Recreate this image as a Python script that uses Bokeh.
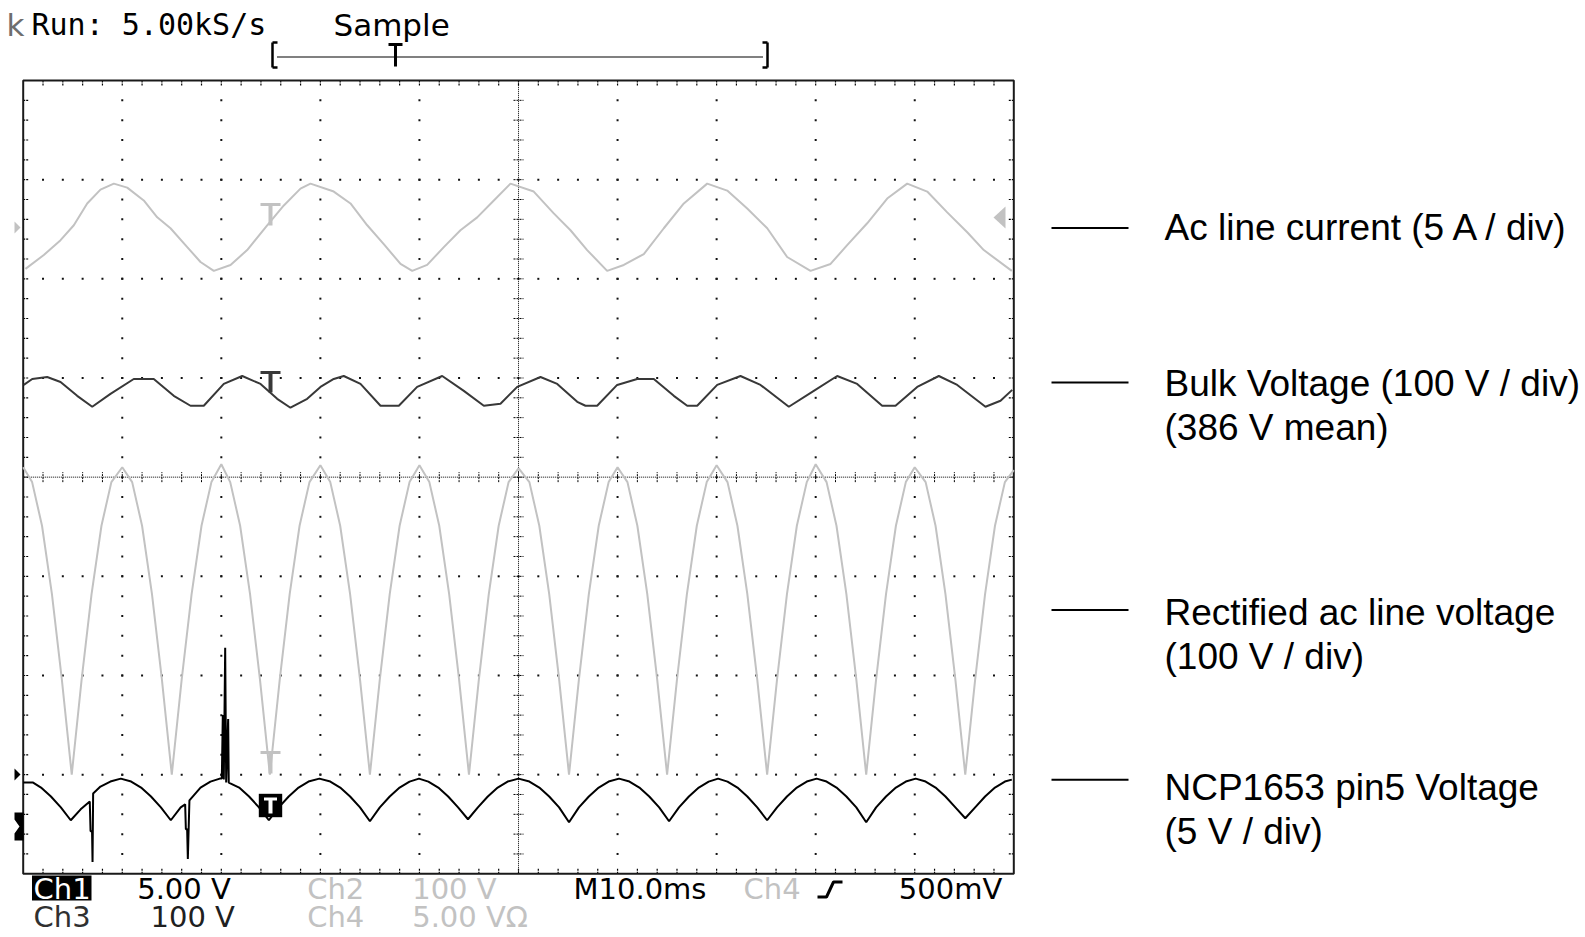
import numpy as np
from bokeh.plotting import figure
from bokeh.models import Range1d
from bokeh.core.properties import value
from bokeh.embed import file_html
from bokeh.resources import INLINE

# ---------------- data ----------------
# time in ms (10 ms / div, 0..100), level in screen divisions (0 = screen centre, -4..4)
current_t = [0.23, 2.08, 3.77, 5.11, 6.46, 7.80, 9.15, 10.50, 12.17, 13.53, 14.87, 16.56, 17.90, 19.24,
             20.93, 22.61, 24.63, 26.31, 27.99, 29.00, 31.35, 33.04, 34.73, 36.40, 38.09, 39.27, 40.78,
             42.46, 44.14, 45.83, 47.51, 49.19, 51.54, 53.56, 55.25, 56.93, 58.95, 60.63, 62.65, 64.67,
             66.69, 69.05, 71.07, 73.09, 75.11, 77.12, 79.48, 81.50, 83.18, 85.20, 87.22, 89.24, 91.26,
             93.28, 95.30, 96.97, 99.80]
current_div = [2.10, 2.24, 2.39, 2.54, 2.76, 2.90, 2.96, 2.92, 2.79, 2.62, 2.51, 2.32, 2.17, 2.08,
               2.14, 2.29, 2.54, 2.74, 2.91, 2.96, 2.88, 2.76, 2.54, 2.35, 2.15, 2.08, 2.14,
               2.32, 2.49, 2.62, 2.79, 2.96, 2.88, 2.66, 2.49, 2.29, 2.08, 2.14, 2.25, 2.51,
               2.76, 2.96, 2.89, 2.71, 2.51, 2.22, 2.08, 2.15, 2.34, 2.56, 2.81, 2.96, 2.88,
               2.67, 2.47, 2.29, 2.08]

bulk_t = [0.06, 0.91, 2.42, 3.77, 5.45, 6.97, 8.81, 11.16, 13.18, 15.20, 16.89, 18.23, 20.25, 22.11,
          23.96, 25.64, 26.98, 28.67, 30.01, 31.35, 32.36, 34.05, 36.07, 37.92, 39.77, 42.30, 44.48,
          46.50, 48.18, 49.87, 52.22, 53.91, 55.93, 56.76, 57.94, 59.96, 61.98, 63.66, 65.68, 67.03,
          68.04, 70.06, 72.41, 74.43, 77.29, 79.81, 82.17, 84.19, 86.71, 88.06, 90.25, 92.43, 94.29,
          97.14, 98.66, 99.84]
bulk_div = [0.93, 0.99, 1.01, 0.96, 0.82, 0.71, 0.84, 0.99, 0.99, 0.82, 0.72, 0.72, 0.94, 1.02,
            0.94, 0.79, 0.70, 0.79, 0.91, 0.99, 1.02, 0.94, 0.72, 0.72, 0.91, 1.02, 0.87,
            0.72, 0.74, 0.91, 1.01, 0.94, 0.76, 0.72, 0.72, 0.93, 0.99, 0.99, 0.82, 0.72,
            0.72, 0.93, 1.02, 0.93, 0.71, 0.87, 1.02, 0.94, 0.72, 0.72, 0.91, 1.02, 0.93,
            0.71, 0.77, 0.88]

rect_t = [0.0, 0.9, 1.9, 2.9, 3.9, 4.9, 5.9, 6.9, 7.9, 8.9, 10.0,
          11.0, 12.0, 13.0, 14.0, 15.0, 16.0, 17.0, 18.0, 19.0, 20.0,
          20.9, 21.9, 22.9, 23.9, 24.9, 25.9, 26.9, 27.9, 28.9, 30.0,
          31.0, 32.0, 33.0, 34.0, 35.0, 36.0, 37.0, 38.0, 39.0, 40.0,
          41.0, 42.0, 43.0, 44.0, 45.0, 46.0, 47.0, 48.0, 49.0, 50.0,
          51.1, 52.1, 53.1, 54.1, 55.1, 56.1, 57.1, 58.1, 59.1, 60.0,
          61.0, 62.0, 63.0, 64.0, 65.0, 66.0, 67.0, 68.0, 69.0, 70.0,
          71.1, 72.1, 73.1, 74.1, 75.1, 76.1, 77.1, 78.1, 79.1, 80.0,
          81.1, 82.1, 83.1, 84.1, 85.1, 86.1, 87.1, 88.1, 89.1, 90.0,
          91.1, 92.1, 93.1, 94.1, 95.1, 96.1, 97.1, 98.1, 99.1, 100.0]
rect_div = [0.10, -0.05, -0.49, -1.18, -2.04, -3.00, -2.04, -1.18, -0.49, -0.05, 0.10,
            -0.05, -0.49, -1.18, -2.04, -3.00, -2.04, -1.18, -0.49, -0.05, 0.13,
            -0.05, -0.49, -1.18, -2.04, -3.00, -2.04, -1.18, -0.49, -0.05, 0.12,
            -0.05, -0.49, -1.18, -2.04, -3.00, -2.04, -1.18, -0.49, -0.05, 0.12,
            -0.05, -0.49, -1.18, -2.04, -3.00, -2.04, -1.18, -0.49, -0.05, 0.09,
            -0.05, -0.49, -1.18, -2.04, -3.00, -2.04, -1.18, -0.49, -0.05, 0.10,
            -0.05, -0.49, -1.18, -2.04, -3.00, -2.04, -1.18, -0.49, -0.05, 0.12,
            -0.05, -0.49, -1.18, -2.04, -3.00, -2.04, -1.18, -0.49, -0.05, 0.13,
            -0.05, -0.49, -1.18, -2.04, -3.00, -2.04, -1.18, -0.49, -0.05, 0.10,
            -0.05, -0.49, -1.18, -2.04, -3.00, -2.04, -1.18, -0.49, -0.05, 0.07]

pin5_t = [0.0, 1.0, 1.8, 2.8, 3.8, 4.8, 5.8, 6.72, 6.80, 6.95, 7.00, 7.06, 7.8, 8.8, 9.85,
          10.9, 11.9, 12.9, 13.9, 14.9, 15.9, 16.35, 16.42, 16.55, 16.62, 16.78, 17.9, 18.9, 19.85,
          20.05, 20.15, 20.25, 20.39, 20.49, 20.69, 20.75, 21.8, 22.8, 23.8, 24.8, 25.8, 26.8, 27.8, 28.8, 29.9,
          31.0, 32.0, 33.0, 34.0, 35.0, 36.0, 37.0, 38.0, 39.0, 39.95,
          40.9, 41.9, 42.9, 43.9, 44.9, 45.9, 46.9, 47.9, 48.9, 50.0,
          51.1, 52.1, 53.1, 54.1, 55.1, 56.1, 57.1, 58.1, 59.1, 60.15,
          61.2, 62.2, 63.2, 64.2, 65.2, 66.2, 67.2, 68.2, 69.2, 70.15,
          71.1, 72.1, 73.1, 74.1, 75.1, 76.1, 77.1, 78.1, 79.1, 80.1,
          81.1, 82.1, 83.1, 84.1, 85.1, 86.1, 87.1, 88.1, 89.1, 90.1,
          91.1, 92.1, 93.1, 94.1, 95.1, 96.1, 97.1, 98.1, 99.1, 99.8]
pin5_div = [-3.08, -3.08, -3.13, -3.22, -3.33, -3.46, -3.35, -3.27, -3.57, -3.57, -3.88, -3.19, -3.12, -3.07, -3.04,
            -3.07, -3.13, -3.22, -3.33, -3.46, -3.33, -3.30, -3.55, -3.55, -3.85, -3.26, -3.13, -3.07, -3.04,
            -3.04, -2.40, -3.05, -1.72, -3.08, -2.44, -3.08, -3.13, -3.22, -3.33, -3.46, -3.33, -3.22, -3.13, -3.07, -3.04,
            -3.07, -3.13, -3.22, -3.33, -3.47, -3.33, -3.22, -3.13, -3.07, -3.04,
            -3.07, -3.13, -3.22, -3.33, -3.45, -3.33, -3.22, -3.13, -3.07, -3.04,
            -3.07, -3.13, -3.22, -3.33, -3.48, -3.33, -3.22, -3.13, -3.07, -3.04,
            -3.07, -3.13, -3.22, -3.33, -3.47, -3.33, -3.22, -3.13, -3.07, -3.04,
            -3.07, -3.13, -3.22, -3.33, -3.46, -3.33, -3.22, -3.13, -3.07, -3.04,
            -3.07, -3.13, -3.22, -3.33, -3.48, -3.33, -3.22, -3.13, -3.07, -3.04,
            -3.07, -3.13, -3.22, -3.33, -3.44, -3.33, -3.22, -3.13, -3.07, -3.05]

trace_labels = [["Ac line current (5 A / div)"],
                ["Bulk Voltage (100 V / div)", "(386 V mean)"],
                ["Rectified ac line voltage", "(100 V / div)"],
                ["NCP1653 pin5 Voltage", "(5 V / div)"]]
header_texts = ["k", "Run: 5.00kS/s", "Sample"]
status_row1 = ["Ch1", "5.00 V", "Ch2", "100 V", "M10.0ms", "Ch4", "500mV"]
status_row2 = ["Ch3", "100 V", "Ch4", "5.00 V\u03a9"]

N_XDIV, N_YDIV, MS_PER_DIV = 10, 8, 10

# ---------------- layout (page pixels) ----------------
W, H = 1584, 936
PAGE = 0          # canvas origin on the photographed page
FX0, FX1 = 22.7, 1013.3
FY0, FY1 = 80.0, 873.3
SX = (FX1 - FX0) / (N_XDIV * MS_PER_DIV)
SY = (FY1 - FY0) / N_YDIV
FYC = (FY0 + FY1) / 2.0


def X(px):
    return (px - FX0) / SX


def Y(py):
    return (FYC - py) / SY


def dx(n):
    return n / SX


def dy(n):
    return n / SY


LG = "#c2c2c2"
DG = "#383838"
TMAX = N_XDIV * MS_PER_DIV
YMAX = N_YDIV / 2

p = figure(width=W, height=H, x_range=Range1d(X(PAGE), X(PAGE + W)),
           y_range=Range1d(Y(PAGE + H), Y(PAGE)), output_backend="svg",
           toolbar_location=None, min_border=0, x_axis_location=None,
           y_axis_location=None, title=None)
p.outline_line_color = None
p.background_fill_color = "white"
p.border_fill_color = "white"
p.xgrid.visible = False
p.ygrid.visible = False

# ---------------- graticule ----------------
minor_x = np.arange(0, TMAX + 0.001, MS_PER_DIV / 5)[1:-1]
minor_y = np.arange(-YMAX, YMAX + 0.001, 0.2)[1:-1]
major_x = [k * MS_PER_DIV for k in range(1, N_XDIV) if k != N_XDIV // 2]
major_y = [k for k in range(-N_YDIV // 2 + 1, N_YDIV // 2) if k != 0]
gx = [mx for mx in major_x for _ in minor_y] + [xx for _ in major_y for xx in minor_x]
gy = [yy for _ in major_x for yy in minor_y] + [my for my in major_y for _ in minor_x]
p.scatter(gx, gy, marker="square", size=2, fill_color="#111111", line_color=None)

cx = TMAX / 2
p.segment(x0=[cx, 0], y0=[-YMAX, 0], x1=[cx, TMAX], y1=[YMAX, 0],
          line_color="black", line_width=1, line_dash="1 1")
p.segment(x0=[cx - dx(5)] * len(minor_y), y0=list(minor_y), x1=[cx + dx(5)] * len(minor_y),
          y1=list(minor_y), line_color="black", line_width=1, line_dash="2 1")
p.segment(x0=list(minor_x), y0=[-dy(5)] * len(minor_x), x1=list(minor_x),
          y1=[dy(5)] * len(minor_x), line_color="black", line_width=1, line_dash="2 1")
# edge ticks
ex0 = list(minor_x) * 2 + [0] * len(minor_y) + [TMAX] * len(minor_y)
ex1 = list(minor_x) * 2 + [dx(6)] * len(minor_y) + [TMAX - dx(6)] * len(minor_y)
ey0 = [YMAX] * len(minor_x) + [-YMAX] * len(minor_x) + list(minor_y) * 2
ey1 = [YMAX - dy(6)] * len(minor_x) + [-YMAX + dy(6)] * len(minor_x) + list(minor_y) * 2
p.segment(x0=ex0, y0=ey0, x1=ex1, y1=ey1, line_color="black", line_width=1.2, line_dash="2 1")
p.quad(left=[0], right=[TMAX], bottom=[-YMAX], top=[YMAX], fill_color=None,
       line_color="#1a1a1a", line_width=2)

# ---------------- traces ----------------
p.line(current_t, current_div, line_color=LG, line_width=2)
p.line(rect_t, rect_div, line_color=LG, line_width=2)
p.line(bulk_t, bulk_div, line_color=DG, line_width=2)
p.line(pin5_t, pin5_div, line_color="black", line_width=2)

# ---------------- channel / trigger markers ----------------
p.patch([X(14), X(14), X(20)], [Y(221), Y(233), Y(227)], fill_color=LG, line_color=None)
p.patch([X(14), X(14), X(20)], [Y(768), Y(780), Y(774)], fill_color="black", line_color=None)
p.patch([X(14), X(23), X(23), X(14), X(14), X(19), X(14)],
        [Y(812), Y(812), Y(840), Y(840), Y(833), Y(826), Y(819)], fill_color="black", line_color=None)
p.patch([X(1005), X(1005), X(993)], [Y(206), Y(228), Y(217)], fill_color=LG, line_color=None)

TPX = 270
for (top, bot, col) in [(204, 225, LG), (372, 392, DG), (752, 773, LG)]:
    p.segment(x0=[X(TPX - 10)], y0=[Y(top)], x1=[X(TPX + 10)], y1=[Y(top)], line_color=col, line_width=3)
    p.segment(x0=[X(TPX)], y0=[Y(top)], x1=[X(TPX)], y1=[Y(bot)], line_color=col, line_width=4)
p.quad(left=[X(258.3)], right=[X(281.7)], top=[Y(793.3)], bottom=[Y(816.7)],
       fill_color="black", line_color=None)
p.segment(x0=[X(263.5)], y0=[Y(798.5)], x1=[X(276.5)], y1=[Y(798.5)], line_color="white", line_width=3)
p.segment(x0=[X(TPX)], y0=[Y(798.5)], x1=[X(TPX)], y1=[Y(813)], line_color="white", line_width=4)

# record bracket at top
p.segment(x0=[X(272), X(272), X(272), X(767), X(762), X(762)],
          y0=[Y(42), Y(42), Y(67), Y(42), Y(42), Y(67)],
          x1=[X(272), X(277), X(277), X(767), X(767), X(767)],
          y1=[Y(67), Y(42), Y(67), Y(67), Y(42), Y(67)], line_color="black", line_width=2.5)
p.segment(x0=[X(277)], y0=[Y(56.5)], x1=[X(762)], y1=[Y(56.5)], line_color="black",
          line_width=2, line_dash="1 1")
p.segment(x0=[X(388), X(395)], y0=[Y(44), Y(44)], x1=[X(402), X(395)], y1=[Y(44), Y(66)],
          line_color="black", line_width=3)

# ---------------- scope texts ----------------
SCOPE_FONT = value("DejaVu Sans")
MONO_FONT = value("DejaVu Sans Mono")


def txt(s, px, py, color, size, font=SCOPE_FONT, align="left"):
    p.text(x=[X(px)], y=[Y(py)], text=[s], text_font=font, text_font_size=size,
           text_color=color, text_align=align, text_baseline="middle")


txt(header_texts[0], 24, 24, "#6e6e6e", "31px", align="right")
txt(header_texts[1], 31, 24, "black", "30px", font=MONO_FONT)
txt(header_texts[2], 333, 24, "black", "31px")

p.quad(left=[X(31.5)], right=[X(91)], top=[Y(875)], bottom=[Y(900)], fill_color="black", line_color=None)
row1_pos = [(33, "white"), (136.7, "black"), (306.7, LG), (411.7, LG), (573, "black"), (743, LG), (898.3, "black")]
for s, (px, col) in zip(status_row1, row1_pos):
    txt(s, px, 888.3, col, "29px")
row2_pos = [(33, "#303030"), (150, "#202020"), (306.7, LG), (411.7, LG)]
for s, (px, col) in zip(status_row2, row2_pos):
    txt(s, px, 916.7, col, "29px")
p.line([X(817), X(826), X(833), X(842)], [Y(896.5), Y(896.5), Y(881.5), Y(881.5)],
       line_color="black", line_width=3)

# ---------------- trace labels on the right ----------------
line_y = [227.4, 382, 609.5, 779.3]
text_y = [227.4, 383, 611.5, 787.4]
for lines, ly, ty in zip(trace_labels, line_y, text_y):
    p.segment(x0=[X(1051)], y0=[Y(ly)], x1=[X(1128)], y1=[Y(ly)], line_color="black", line_width=2)
    for i, s in enumerate(lines):
        txt(s, 1164, ty + i * 44, "black", "37px", font=value("Liberation Sans"))

open("out.html", "w").write(file_html(p, INLINE))
